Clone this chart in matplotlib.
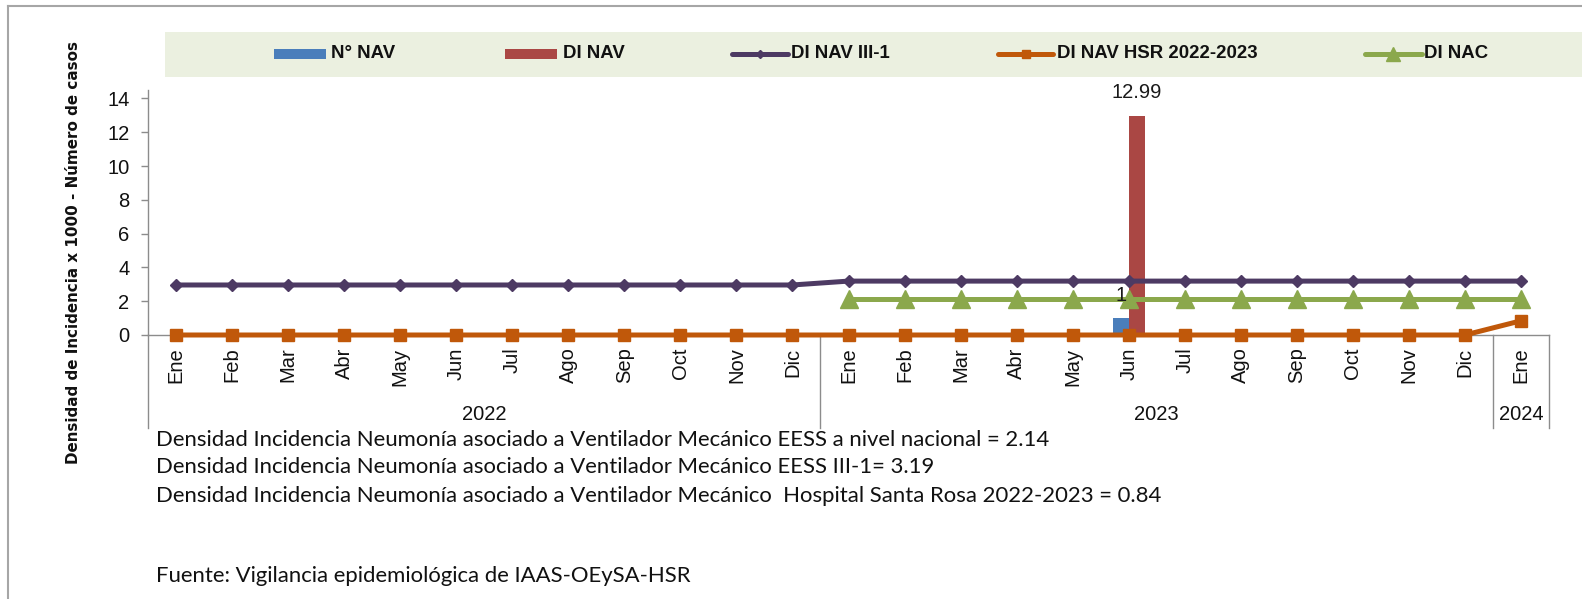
import numpy as np
import matplotlib
matplotlib.use("Agg")
import matplotlib.pyplot as plt
from matplotlib.patches import Rectangle
from matplotlib.lines import Line2D

# ---------------- data ----------------
months = ['Ene', 'Feb', 'Mar', 'Abr', 'May', 'Jun', 'Jul', 'Ago', 'Sep', 'Oct', 'Nov', 'Dic',
          'Ene', 'Feb', 'Mar', 'Abr', 'May', 'Jun', 'Jul', 'Ago', 'Sep', 'Oct', 'Nov', 'Dic',
          'Ene']
years = ['2022', '2023', '2024']
year_start = [0, 12, 24]
year_end = [11, 23, 24]
nan = np.nan
n_nav = [nan, nan, nan, nan, nan, nan, nan, nan, nan, nan, nan, nan,
         nan, nan, nan, nan, nan, 1, nan, nan, nan, nan, nan, nan, nan]
di_nav = [nan, nan, nan, nan, nan, nan, nan, nan, nan, nan, nan, nan,
          nan, nan, nan, nan, nan, 12.99, nan, nan, nan, nan, nan, nan, nan]
di_nav_iii1 = [2.96, 2.96, 2.96, 2.96, 2.96, 2.96, 2.96, 2.96, 2.96, 2.96, 2.96, 2.96,
               3.19, 3.19, 3.19, 3.19, 3.19, 3.19, 3.19, 3.19, 3.19, 3.19, 3.19, 3.19, 3.19]
di_nav_hsr = [0, 0, 0, 0, 0, 0, 0, 0, 0, 0, 0, 0,
              0, 0, 0, 0, 0, 0, 0, 0, 0, 0, 0, 0, 0.84]
di_nac = [nan, nan, nan, nan, nan, nan, nan, nan, nan, nan, nan, nan,
          2.14, 2.14, 2.14, 2.14, 2.14, 2.14, 2.14, 2.14, 2.14, 2.14, 2.14, 2.14, 2.14]
series_names = ['N° NAV', 'DI NAV', 'DI NAV III-1', 'DI NAV HSR 2022-2023', 'DI NAC']
ylabel = 'Densidad de Incidencia x 1000 - Número de casos'
notes = ['Densidad Incidencia Neumonía asociado a Ventilador Mecánico EESS a nivel nacional = 2.14',
         'Densidad Incidencia Neumonía asociado a Ventilador Mecánico EESS III-1= 3.19',
         'Densidad Incidencia Neumonía asociado a Ventilador Mecánico  Hospital Santa Rosa 2022-2023 = 0.84']
source = 'Fuente: Vigilancia epidemiológica de IAAS-OEySA-HSR'

# ---------------- style ----------------
C_BLUE = '#4A7EBB'
C_RED = '#AA4744'
C_PURPLE = '#4D3A63'
C_ORANGE = '#C0580A'
C_GREEN = '#8BA84C'
C_AXIS = '#8C8C8C'
FONT = 'Liberation Sans'
TICK_FS = 14.5

W, H = 1582, 599
fig = plt.figure(figsize=(W / 100, H / 100), dpi=100)
fig.patch.set_facecolor('white')

def fx(px):
    return px / W

def fy(py):
    return 1 - py / H

ax_left, ax_right, ax_top, ax_bottom = 148, 1549, 90, 335
ax = fig.add_axes([fx(ax_left), fy(ax_bottom), fx(ax_right - ax_left), (ax_bottom - ax_top) / H])
ax.set_facecolor('none')

x = np.arange(len(months))
ax.set_xlim(-0.5, len(months) - 0.5)
ax.set_ylim(0, 14.5)

# bars
bw = 0.285
ax.bar(x - 0.143, n_nav, width=bw, color=C_BLUE, zorder=2)
ax.bar(x + 0.143, di_nav, width=bw, color=C_RED, zorder=2)
for xs, vals in ((x - 0.143, n_nav), (x + 0.143, di_nav)):
    for xi, v in zip(xs, vals):
        if not np.isnan(v):
            ax.annotate(f'{v:g}', (xi, v), xytext=(0, 16.5), textcoords='offset points',
                        ha='center', va='center', fontsize=TICK_FS, family=FONT,
                        color='#1a1a1a', zorder=6)

# lines
ax.plot(x, di_nav_iii1, color=C_PURPLE, lw=3.6, marker='D', ms=6.0, mec=C_PURPLE,
        mfc=C_PURPLE, zorder=4, solid_capstyle='round', clip_on=False)
ax.plot(x, di_nav_hsr, color=C_ORANGE, lw=3.6, marker='s', ms=8.5, mec=C_ORANGE,
        mfc=C_ORANGE, zorder=5, solid_capstyle='round', clip_on=False)
ax.plot(x, di_nac, color=C_GREEN, lw=3.6, marker='^', ms=13.5, mec=C_GREEN,
        mfc=C_GREEN, zorder=4, solid_capstyle='round', clip_on=False)

# axes styling
for s in ('top', 'right'):
    ax.spines[s].set_visible(False)
for s in ('left', 'bottom'):
    ax.spines[s].set_color(C_AXIS)
    ax.spines[s].set_linewidth(1.0)
ax.set_yticks(np.arange(0, 15, 2))
ax.tick_params(axis='y', length=4.8, width=1, color=C_AXIS, pad=8.5, labelsize=TICK_FS)
ax.set_xticks(x)
ax.set_xticklabels(months, rotation=90)
ax.tick_params(axis='x', length=0, pad=9, labelsize=TICK_FS)
for lab in ax.get_xticklabels() + ax.get_yticklabels():
    lab.set_family(FONT)
    lab.set_color('#111111')

# category group separators and year labels
xt = ax.get_xaxis_transform()
sep_depth = -(428 - ax_bottom) / (ax_bottom - ax_top)
for xs in [year_start[0] - 0.5] + [e + 0.5 for e in year_end]:
    ax.plot([xs, xs], [0, sep_depth], transform=xt, color=C_AXIS, lw=1.0, clip_on=False,
            zorder=1)
year_y = -(415 - ax_bottom) / (ax_bottom - ax_top)
for yr, s, e in zip(years, year_start, year_end):
    ax.text((s + e) / 2, year_y, yr, transform=xt, ha='center', va='center', fontsize=TICK_FS,
            family=FONT, color='#111111')

# legend box (manual, matching the original layout)
fig.patches.append(Rectangle((fx(164.6), fy(76.7)), fx(W - 164.6), (76.7 - 32.3) / H,
                             transform=fig.transFigure, facecolor='#EBF0E0', edgecolor='none',
                             zorder=0))
ly = 53.8
fig.patches.append(Rectangle((fx(274), fy(58.7)), fx(52), 9.4 / H, transform=fig.transFigure,
                             facecolor=C_BLUE, edgecolor='none'))
fig.patches.append(Rectangle((fx(505), fy(58.7)), fx(52), 9.4 / H, transform=fig.transFigure,
                             facecolor=C_RED, edgecolor='none'))
for (x0, x1), col, mk, ms in (((731.5, 787.8), C_PURPLE, 'D', 6.0),
                              ((998, 1053), C_ORANGE, 's', 8.5),
                              ((1365, 1421.5), C_GREEN, '^', 13.5)):
    fig.lines.append(Line2D([fx(x0), fx(x1)], [fy(ly), fy(ly)], transform=fig.transFigure,
                            color=col, lw=3.6, solid_capstyle='round'))
    fig.lines.append(Line2D([fx((x0 + x1) / 2)], [fy(ly)], transform=fig.transFigure,
                            color=col, marker=mk, ms=ms * 0.75, lw=0))
for tx, name in zip((331, 562.6, 791, 1057, 1424), series_names):
    fig.text(fx(tx), fy(ly), name, ha='left', va='center', fontsize=13.4, fontweight='bold',
             family=FONT, color='#111111')

# y label
yl = fig.text(fx(74), fy(252.5), ylabel, rotation=90, ha='center', va='center',
              fontsize=11, fontweight='bold', family='DejaVu Sans', color='#111111')

# footnotes
note_font = 'Lato'
note_texts = []
for t, py in zip(notes + [source], (440, 467, 496, 576)):
    note_texts.append(fig.text(fx(155.5), fy(py), t, ha='left', va='center', fontsize=13,
                               family=note_font, color='#111111'))

# fit text sizes to the measured extents of the original
fig.canvas.draw()
r = fig.canvas.get_renderer()
w0 = note_texts[0].get_window_extent(r).width
ns = 13 * 889 / w0
for t in note_texts:
    t.set_fontsize(ns)
h0 = yl.get_window_extent(r).height
yl.set_fontsize(11 * 421 / h0)

# outer frame (partially visible in the original)
fig.lines.append(Line2D([fx(8), 1], [fy(6), fy(6)], transform=fig.transFigure,
                        color='#A6A6A6', lw=1.5))
fig.lines.append(Line2D([fx(8), fx(8)], [fy(6), 0], transform=fig.transFigure,
                        color='#A6A6A6', lw=1.5))

fig.savefig('out.png', dpi=100, facecolor='white')
